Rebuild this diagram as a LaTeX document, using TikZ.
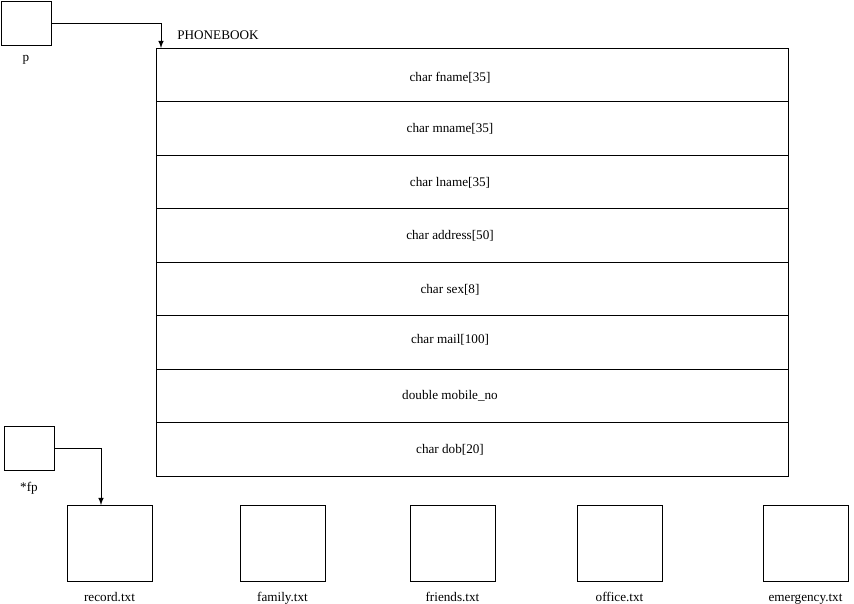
\documentclass[tikz,border=0pt]{standalone}
\usepackage{fontspec}
\setmainfont{Liberation Serif}
\usetikzlibrary{positioning}

\begin{document}
\begin{tikzpicture}[
    x=0.02cm,y=-0.02cm,
    font=\fontsize{7.5}{9}\selectfont,
    ptr/.style={rectangle,draw,minimum width=1cm,minimum height=0.88cm,inner sep=0pt},
    field/.style={rectangle,draw,minimum width=12.64cm,minimum height=1.07cm,inner sep=0pt},
    file/.style={rectangle,draw,minimum width=1.7cm,minimum height=1.52cm,inner sep=0pt},
    caption/.style={text height=1.6ex,text depth=0.4ex,inner sep=1pt},
    link/.style={->,>=latex,thin},
]
\useasboundingbox (0,0) rectangle (854,604);

% pointer to the structure
\node[ptr] (p) at (26,23) {};
\node[caption,below=0.02cm of p] (plabel) {p};
\node (title) at (218,35) {PHONEBOOK};

% fields of the structure
\node[field] (fname) at (472,74.75) {};
\node[field] (mname) at (472,128.25) {};
\node[field] (lname) at (472,181.75) {};
\node[field] (address) at (472,235.25) {};
\node[field] (sex) at (472,288.75) {};
\node[field] (mail) at (472,342.25) {};
\node[field] (mobile) at (472,395.75) {};
\node[field] (dob) at (472,449.25) {};
\node (fnametext) at (450,78) {char fname[35]};
\node (mnametext) at (450,129) {char mname[35]};
\node (lnametext) at (450,183) {char lname[35]};
\node (addresstext) at (450,236) {char address[50]};
\node (sextext) at (450,290) {char sex[8]};
\node (mailtext) at (450,340) {char mail[100]};
\node (mobiletext) at (450,396) {double mobile\_no};
\node (dobtext) at (450,450) {char dob[20]};
\coordinate (bookin) at (161,48);
\draw[link] (p.east) -| (bookin);

% file pointer and files
\node[ptr] (fp) at (29,448) {};
\node[caption,below=0.12cm of fp] (fplabel) {*fp};
\node[file] (record) at (109.5,543) {};
\node[file] (family) at (282.5,543) {};
\node[file] (friends) at (452.5,543) {};
\node[file] (office) at (619.5,543) {};
\node[file] (emergency) at (805.5,543) {};
\node[caption,below=0.1cm of record] (recordname) {record.txt};
\node[caption,below=0.1cm of family] (familyname) {family.txt};
\node[caption,below=0.1cm of friends] (friendsname) {friends.txt};
\node[caption,below=0.1cm of office] (officename) {office.txt};
\node[caption,below=0.1cm of emergency] (emergencyname) {emergency.txt};
\coordinate (recin) at (101,505);
\draw[link] (fp.east) -| (recin);
\end{tikzpicture}
\end{document}
